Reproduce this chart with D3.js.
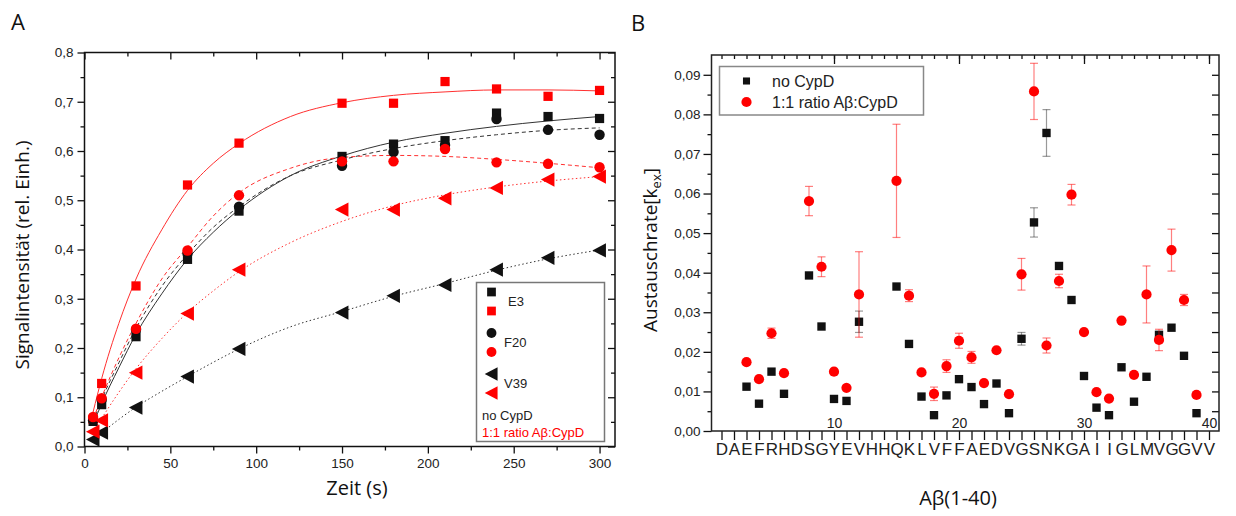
<!DOCTYPE html>
<html>
<head>
<meta charset="utf-8">
<script src="https://cdn.jsdelivr.net/npm/d3@7"></script>
<style>
  body { margin: 0; background: #fff; }
  svg { display: block; }
  .tick text { font-family: "Liberation Sans", Arial, sans-serif; fill: #222; }
  .title { font-family: "Open Sans", sans-serif; fill: #111; }
</style>
</head>
<body>
<svg id="chart" width="1236" height="516"></svg>
<script>
// ---- panel A data (time course) ----
var timeA = [5, 10, 30, 60, 90, 150, 180, 210, 240, 270, 300];
var e3NoCypD  = [0.051, 0.085, 0.223, 0.380, 0.478, 0.589, 0.614, 0.621, 0.677, 0.670, 0.666];
var e3CypD    = [0.055, 0.128, 0.326, 0.531, 0.616, 0.697, 0.697, 0.741, 0.726, 0.711, 0.723];
var f20NoCypD = [0.053, 0.095, 0.237, 0.392, 0.487, 0.570, 0.598, 0.612, 0.665, 0.643, 0.633];
var f20CypD   = [0.060, 0.098, 0.239, 0.398, 0.510, 0.579, 0.579, 0.604, 0.577, 0.574, 0.567];
var v39NoCypD = [0.014, 0.028, 0.079, 0.142, 0.198, 0.272, 0.306, 0.328, 0.359, 0.383, 0.398];
var v39CypD   = [0.030, 0.053, 0.150, 0.270, 0.359, 0.481, 0.481, 0.504, 0.525, 0.542, 0.548];

// fitted curves
var fitTime = [5, 10, 20, 30, 45, 60, 75, 90, 120, 150, 180, 210, 240, 270, 300];
var fitE3NoCypD  = [0.045, 0.087, 0.160, 0.228, 0.310, 0.380, 0.435, 0.481, 0.550, 0.590, 0.618, 0.636, 0.650, 0.661, 0.670];
var fitE3CypD    = [0.070, 0.138, 0.250, 0.340, 0.440, 0.520, 0.575, 0.615, 0.670, 0.698, 0.713, 0.720, 0.724, 0.724, 0.722];
var fitF20NoCypD = [0.050, 0.095, 0.170, 0.240, 0.325, 0.390, 0.445, 0.487, 0.550, 0.582, 0.605, 0.621, 0.633, 0.642, 0.647];
var fitF20CypD   = [0.055, 0.100, 0.180, 0.250, 0.340, 0.405, 0.468, 0.515, 0.565, 0.587, 0.591, 0.589, 0.583, 0.575, 0.566];
var fitV39NoCypD = [0.015, 0.028, 0.055, 0.080, 0.112, 0.142, 0.171, 0.198, 0.243, 0.274, 0.305, 0.331, 0.358, 0.381, 0.399];
var fitV39CypD   = [0.029, 0.057, 0.110, 0.158, 0.219, 0.272, 0.316, 0.355, 0.414, 0.457, 0.489, 0.511, 0.527, 0.539, 0.548];

var xTicksA = [0, 50, 100, 150, 200, 250, 300];
var yTicksA = [0, 0.1, 0.2, 0.3, 0.4, 0.5, 0.6, 0.7, 0.8];
var legendA = ["E3", "F20", "V39"];
var conditionLabels = ["no CypD", "1:1 ratio A\u03b2:CypD"];

// ---- panel B data (exchange rate per residue) ----
var sequence = "DAEFRHDSGYEVHHQKLVFFAEDVGSNKGAIIGLMVGGVV".split("");
var residues = [3, 4, 5, 6, 8, 9, 10, 11, 12, 15, 16, 17, 18, 19, 20, 21, 22, 23, 24, 25, 26, 27, 28, 29, 30, 31, 32, 33, 34, 35, 36, 37, 38, 39];
var kexNoCypD = [0.0112, 0.0069, 0.0150, 0.0094, 0.0393, 0.0264, 0.0081, 0.0076, 0.0276, 0.0365, 0.0220, 0.0087, 0.0040, 0.0090, 0.0131, 0.0111, 0.0068,
                 0.0120, 0.0045, 0.0233, 0.0527, 0.0753, 0.0417, 0.0331, 0.0139, 0.0059, 0.0040, 0.0161, 0.0074, 0.0137, 0.0243, 0.0261, 0.0190, 0.0045];
var errNoCypD = [0, 0, 0, 0, 0, 0, 0, 0, 0.0027, 0, 0, 0, 0, 0, 0, 0, 0,
                 0, 0, 0.0016, 0.0037, 0.0059, 0, 0, 0, 0, 0, 0, 0, 0, 0.0008, 0, 0, 0];
var kexCypD   = [0.0174, 0.0131, 0.0247, 0.0146, 0.0581, 0.0415, 0.0150, 0.0109, 0.0345, 0.0632, 0.0342, 0.0148, 0.0094, 0.0164, 0.0228, 0.0186, 0.0121,
                 0.0204, 0.0093, 0.0396, 0.0858, 0.0216, 0.0379, 0.0597, 0.0250, 0.0098, 0.0082, 0.0279, 0.0142, 0.0345, 0.0230, 0.0457, 0.0331, 0.0091];
var errCypD   = [0.0005, 0, 0.0013, 0, 0.0037, 0.0025, 0, 0, 0.0108, 0.0143, 0.0015, 0, 0.0017, 0.0016, 0.0019, 0.0015, 0,
                 0, 0, 0.0040, 0.0071, 0.0019, 0.0017, 0.0026, 0, 0, 0, 0, 0, 0.0072, 0.0027, 0.0053, 0.0014, 0];
var xLabelsB = [10, 20, 30, 40];

var red = "#ff0000";
var comma = function(f) { return function(d) { return d3.format(f)(d).replace(".", ","); }; };

var svg = d3.select("#chart");

// =================== Panel A ===================
var xA = d3.scaleLinear().domain([0, 309]).range([84.5, 615]);
var yA = d3.scaleLinear().domain([0, 0.8]).range([446.5, 52.5]);

function styleAxis(g, size) {
    g.select(".domain").remove();
    g.selectAll(".tick line").attr("stroke", "#111").attr("stroke-width", 1.3);
    g.selectAll(".tick text").style("font-size", size + "px");
}

var minorXA = xTicksA.slice(0, -1).map(function(d) { return d + 25; });
var minorYA = yTicksA.slice(0, -1).map(function(d) { return d + 0.05; });

svg.append("g").attr("transform", "translate(0," + yA(0) + ")")
    .call(d3.axisBottom(xA).tickValues(xTicksA).tickSize(7).tickPadding(5)).call(styleAxis, 13.5);
svg.append("g").attr("transform", "translate(0," + yA(0) + ")")
    .call(d3.axisBottom(xA).tickValues(minorXA).tickSize(4).tickFormat("")).call(styleAxis, 13);
svg.append("g").attr("transform", "translate(0," + yA(0.8) + ")")
    .call(d3.axisTop(xA).tickValues(xTicksA).tickSize(-7).tickFormat("")).call(styleAxis, 13);
svg.append("g").attr("transform", "translate(0," + yA(0.8) + ")")
    .call(d3.axisTop(xA).tickValues(minorXA).tickSize(-4).tickFormat("")).call(styleAxis, 13);
svg.append("g").attr("transform", "translate(" + xA(0) + ",0)")
    .call(d3.axisLeft(yA).tickValues(yTicksA).tickSize(7).tickPadding(4).tickFormat(comma(".1f"))).call(styleAxis, 13.5);
svg.append("g").attr("transform", "translate(" + xA(0) + ",0)")
    .call(d3.axisLeft(yA).tickValues(minorYA).tickSize(4).tickFormat("")).call(styleAxis, 13);
svg.append("g").attr("transform", "translate(" + xA(309) + ",0)")
    .call(d3.axisRight(yA).tickValues(yTicksA).tickSize(-7).tickFormat("")).call(styleAxis, 13);
svg.append("g").attr("transform", "translate(" + xA(309) + ",0)")
    .call(d3.axisRight(yA).tickValues(minorYA).tickSize(-4).tickFormat("")).call(styleAxis, 13);

svg.append("rect")
    .attr("x", xA(0)).attr("y", yA(0.8))
    .attr("width", xA(309) - xA(0)).attr("height", yA(0) - yA(0.8))
    .attr("fill", "none").attr("stroke", "#111").attr("stroke-width", 1.5);

var triangleLeft = {
    draw: function(ctx, size) {
        var h = Math.sqrt(size) * 0.68;
        ctx.moveTo(-h, 0);
        ctx.lineTo(h * 0.9, -h);
        ctx.lineTo(h * 0.9, h);
        ctx.closePath();
    }
};

var seriesA = [
    { pts: e3NoCypD,  fit: fitE3NoCypD,  color: "#111", line: "#333", dash: null,    shape: d3.symbolSquare, size: 85 },
    { pts: e3CypD,    fit: fitE3CypD,    color: red,    line: "#ff3030", dash: null,  shape: d3.symbolSquare, size: 85 },
    { pts: f20NoCypD, fit: fitF20NoCypD, color: "#111", line: "#333", dash: "4,3",   shape: d3.symbolCircle, size: 85 },
    { pts: f20CypD,   fit: fitF20CypD,   color: red,    line: "#ff3030", dash: "4,3", shape: d3.symbolCircle, size: 85 },
    { pts: v39NoCypD, fit: fitV39NoCypD, color: "#111", line: "#333", dash: "1.5,2.5", shape: triangleLeft, size: 110 },
    { pts: v39CypD,   fit: fitV39CypD,   color: red,    line: "#ff3030", dash: "1.5,2.5", shape: triangleLeft, size: 110 }
];

var lineA = d3.line()
    .x(function(d) { return xA(d[0]); })
    .y(function(d) { return yA(d[1]); })
    .curve(d3.curveMonotoneX);

seriesA.forEach(function(s) {
    svg.append("path")
        .datum(fitTime.map(function(t, i) { return [t, s.fit[i]]; }))
        .attr("d", lineA)
        .attr("fill", "none")
        .attr("stroke", s.line)
        .attr("stroke-width", 1)
        .attr("stroke-dasharray", s.dash);
});

seriesA.forEach(function(s) {
    svg.append("g").selectAll("path")
        .data(timeA.map(function(t, i) { return [t, s.pts[i]]; }))
        .enter()
        .append("path")
        .attr("transform", function(d) { return "translate(" + xA(d[0]) + "," + yA(d[1]) + ")"; })
        .attr("d", d3.symbol().type(s.shape).size(s.size))
        .attr("fill", s.color);
});

// legend A
var legA = svg.append("g");
legA.append("rect")
    .attr("x", 476.5).attr("y", 282.5).attr("width", 128).attr("height", 159)
    .attr("fill", "#fff").attr("stroke", "#777").attr("stroke-width", 1.5);
legendA.forEach(function(name, i) {
    var y0 = 292 + i * 41;
    [0, 1].forEach(function(j) {
        var s = seriesA[i * 2 + j];
        legA.append("path")
            .attr("transform", "translate(491.5," + (y0 + j * 19) + ")")
            .attr("d", d3.symbol().type(s.shape).size(s.size * 0.9))
            .attr("fill", s.color);
    });
    legA.append("text")
        .attr("x", i === 0 ? 508 : 504).attr("y", y0 + 14)
        .style("font-family", "Liberation Sans, Arial, sans-serif")
        .style("font-size", "13px").attr("fill", "#222")
        .text(name);
});
conditionLabels.forEach(function(t, j) {
    legA.append("text")
        .attr("x", 482).attr("y", 420 + j * 17)
        .style("font-family", "Liberation Sans, Arial, sans-serif")
        .style("font-size", "13px")
        .attr("fill", j === 0 ? "#222" : red)
        .text(t);
});

svg.append("text").attr("class", "title").attr("x", 11).attr("y", 30)
    .style("font-size", "22px").text("A");
svg.append("text").attr("class", "title")
    .attr("transform", "translate(29,255) rotate(-90)")
    .attr("text-anchor", "middle").style("font-size", "19px")
    .text("Signalintensit\u00e4t (rel. Einh.)");
svg.append("text").attr("class", "title")
    .attr("x", 357).attr("y", 495).attr("text-anchor", "middle")
    .style("font-size", "20px").text("Zeit (s)");

// =================== Panel B ===================
var xB = d3.scaleLinear().domain([0.2, 40.8]).range([711.5, 1219]);
var yB = d3.scaleLinear().domain([0, 0.095]).range([431, 55]);

var resAll = d3.range(1, 41);
var yMajorB = d3.range(0, 10).map(function(i) { return i / 100; });
var yMinorB = d3.range(0, 9).map(function(i) { return i / 100 + 0.005; });
var yAllB = d3.range(1, 19).map(function(i) { return i * 0.005; });

svg.append("g").attr("transform", "translate(0," + yB(0) + ")")
    .call(d3.axisBottom(xB).tickValues(resAll).tickSize(9).tickFormat("")).call(styleAxis, 13);
svg.append("g").attr("transform", "translate(0," + yB(0) + ")")
    .call(d3.axisTop(xB).tickValues(xLabelsB).tickSize(0).tickPadding(3)).call(styleAxis, 14);
svg.append("g").attr("transform", "translate(0," + yB(0) + ")")
    .call(d3.axisBottom(xB).tickValues(resAll).tickSize(0).tickPadding(12)
        .tickFormat(function(d) { return sequence[d - 1]; }))
    .call(styleAxis, 17);
svg.append("g").attr("transform", "translate(0," + yB(0.095) + ")")
    .call(d3.axisTop(xB).tickValues(resAll).tickSize(-4).tickFormat("")).call(styleAxis, 13);
svg.append("g").attr("transform", "translate(0," + yB(0.095) + ")")
    .call(d3.axisTop(xB).tickValues(xLabelsB).tickSize(-9).tickFormat("")).call(styleAxis, 13);
svg.append("g").attr("transform", "translate(" + xB(0.2) + ",0)")
    .call(d3.axisLeft(yB).tickValues(yMajorB).tickSize(8).tickPadding(3).tickFormat(comma(".2f"))).call(styleAxis, 13.5);
svg.append("g").attr("transform", "translate(" + xB(0.2) + ",0)")
    .call(d3.axisLeft(yB).tickValues(yMinorB).tickSize(4).tickFormat("")).call(styleAxis, 13);
svg.append("g").attr("transform", "translate(" + xB(40.8) + ",0)")
    .call(d3.axisRight(yB).tickValues(yAllB).tickSize(-7).tickFormat("")).call(styleAxis, 13);

svg.append("rect")
    .attr("x", xB(0.2)).attr("y", yB(0.095))
    .attr("width", xB(40.8) - xB(0.2)).attr("height", yB(0) - yB(0.095))
    .attr("fill", "none").attr("stroke", "#222").attr("stroke-width", 1.5);

var seriesB = [
    { vals: kexNoCypD, err: errNoCypD, color: "#111", errColor: "rgba(0,0,0,0.4)", shape: d3.symbolSquare, size: 70 },
    { vals: kexCypD,   err: errCypD,   color: red,    errColor: "rgba(255,0,0,0.5)", shape: d3.symbolCircle, size: 82 }
];

seriesB.forEach(function(s) {
    var pts = residues.map(function(r, i) { return { r: r, v: s.vals[i], e: s.err[i] }; });
    var eb = svg.append("g").selectAll("g")
        .data(pts.filter(function(d) { return d.e > 0; }))
        .enter().append("g")
        .attr("stroke", s.errColor).attr("stroke-width", 1.2);
    eb.append("line")
        .attr("x1", function(d) { return xB(d.r); }).attr("x2", function(d) { return xB(d.r); })
        .attr("y1", function(d) { return yB(d.v - d.e); }).attr("y2", function(d) { return yB(d.v + d.e); });
    [-1, 1].forEach(function(sgn) {
        eb.append("line")
            .attr("x1", function(d) { return xB(d.r) - 4; }).attr("x2", function(d) { return xB(d.r) + 4; })
            .attr("y1", function(d) { return yB(d.v + sgn * d.e); }).attr("y2", function(d) { return yB(d.v + sgn * d.e); });
    });
    svg.append("g").selectAll("path")
        .data(pts).enter().append("path")
        .attr("transform", function(d) { return "translate(" + xB(d.r) + "," + yB(d.v) + ")"; })
        .attr("d", d3.symbol().type(s.shape).size(s.size))
        .attr("fill", s.color);
});

// legend B
var legB = svg.append("g");
legB.append("rect")
    .attr("x", 719.5).attr("y", 66.5).attr("width", 204).attr("height", 48.5)
    .attr("fill", "#fff").attr("stroke", "#888").attr("stroke-width", 1.5);
conditionLabels.forEach(function(t, j) {
    var s = seriesB[j];
    legB.append("path")
        .attr("transform", "translate(746.5," + (81 + j * 21) + ")")
        .attr("d", d3.symbol().type(s.shape).size(j === 0 ? 50 : 82))
        .attr("fill", s.color);
    legB.append("text")
        .attr("x", 772).attr("y", 81 + j * 21).attr("dy", "0.36em")
        .style("font-family", "Liberation Sans, Arial, sans-serif")
        .style("font-size", "16px").attr("fill", "#222")
        .text(t);
});

svg.append("text").attr("class", "title").attr("x", 631).attr("y", 31)
    .style("font-size", "22px").text("B");
var yTitleB = svg.append("text").attr("class", "title")
    .attr("transform", "translate(657,250) rotate(-90)")
    .attr("text-anchor", "middle").style("font-size", "19px");
yTitleB.append("tspan").text("Austauschrate[k");
yTitleB.append("tspan").attr("dy", 4).style("font-size", "13px").text("ex");
yTitleB.append("tspan").attr("dy", -4).text("]");
svg.append("text").attr("class", "title")
    .attr("x", 958).attr("y", 505).attr("text-anchor", "middle")
    .style("font-size", "20px").text("A\u03b2(1-40)");
</script>
</body>
</html>
